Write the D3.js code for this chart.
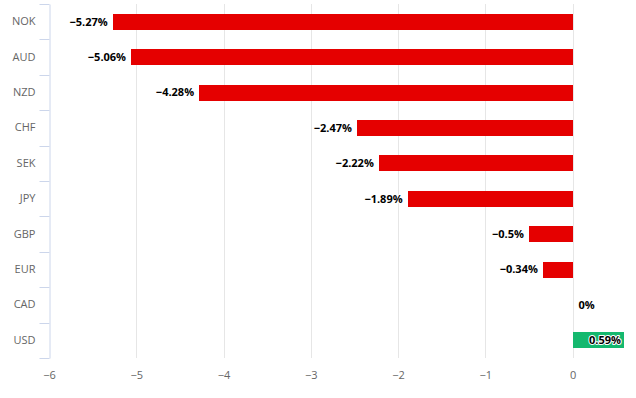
<!DOCTYPE html>
<html>
<head>
<meta charset="utf-8">
<script src="https://cdn.jsdelivr.net/npm/d3@7"></script>
<style>
  body { margin: 0; background: #fff; }
  text { font-family: "Open Sans", "DejaVu Sans", sans-serif; }
</style>
</head>
<body>
<script>
// currency performance, percent
var currencies = ["NOK", "AUD", "NZD", "CHF", "SEK", "JPY", "GBP", "EUR", "CAD", "USD"];
var changes = [-5.27, -5.06, -4.28, -2.47, -2.22, -1.89, -0.5, -0.34, 0, 0.59];
var labels = ["\u22125.27%", "\u22125.06%", "\u22124.28%", "\u22122.47%", "\u22122.22%",
              "\u22121.89%", "\u22120.5%", "\u22120.34%", "0%", "0.59%"];
var xTicks = [-6, -5, -4, -3, -2, -1, 0];

var width = 636, height = 398;
var margin = {top: 4, right: 12, bottom: 40, left: 49};

var svg = d3.select("body").append("svg")
    .attr("width", width)
    .attr("height", height);

var x = d3.scaleLinear()
    .domain([-6, 0.59])
    .range([margin.left, width - margin.right]);

var y = d3.scaleBand()
    .domain(currencies)
    .range([margin.top, height - margin.bottom]);

// grid lines
svg.append("g")
    .selectAll("line")
    .data(xTicks.filter(function(d) { return d > -6; }))
    .enter().append("line")
    .attr("x1", function(d) { return Math.round(x(d)) + 0.5; })
    .attr("x2", function(d) { return Math.round(x(d)) + 0.5; })
    .attr("y1", margin.top)
    .attr("y2", height - margin.bottom)
    .style("stroke", "#e6e6e6");

// x axis labels
var xAxis = d3.axisBottom(x)
    .tickValues(xTicks)
    .tickSize(0)
    .tickPadding(13)
    .tickFormat(function(d) { return d < 0 ? "\u2212" + Math.abs(d) : d; });

var gx = svg.append("g")
    .attr("transform", "translate(0," + (height - margin.bottom) + ")")
    .call(xAxis);
gx.select(".domain").remove();
gx.selectAll("text")
    .style("font-size", "11px")
    .style("fill", "#666");

// category axis
var yAxis = d3.axisLeft(y).tickSize(0).tickPadding(14);
var gy = svg.append("g")
    .attr("transform", "translate(" + (margin.left + 0.5) + ",0)")
    .call(yAxis);
gy.select(".domain")
    .style("stroke", "#ccd6eb");
gy.selectAll("text")
    .style("font-size", "11px")
    .style("fill", "#666");

// category boundary ticks
var bounds = currencies.map(function(c) { return y(c); }).concat([height - margin.bottom]);
gy.append("g")
    .selectAll("line")
    .data(bounds)
    .enter().append("line")
    .attr("x1", -10)
    .attr("x2", 0)
    .attr("y1", function(d) { return Math.round(d) + 0.5; })
    .attr("y2", function(d) { return Math.round(d) + 0.5; })
    .style("stroke", "#ccd6eb");

var barH = 16;
function left(i) { return Math.round(x(Math.min(0, changes[i]))); }
function right(i) { return Math.round(x(Math.max(0, changes[i]))); }

// bars
svg.append("g")
    .selectAll("rect")
    .data(currencies)
    .enter().append("rect")
    .attr("x", function(d, i) { return left(i); })
    .attr("y", function(d) { return Math.round(y(d) + y.bandwidth() / 2 - barH / 2); })
    .attr("width", function(d, i) { return right(i) - left(i); })
    .attr("height", barH)
    .style("fill", function(d, i) { return changes[i] < 0 ? "#e50000" : "#14b86e"; });

// data labels
svg.append("g")
    .selectAll("text")
    .data(currencies)
    .enter().append("text")
    .attr("x", function(d, i) {
        var v = changes[i];
        if (v < 0) return x(v) - 5;
        if (v > 0) return x(v) - 3;
        return x(0) + 6;
    })
    .attr("y", function(d) { return y(d) + y.bandwidth() / 2; })
    .attr("dy", "0.35em")
    .attr("text-anchor", function(d, i) { return changes[i] === 0 ? "start" : "end"; })
    .style("font-size", "11px")
    .style("font-weight", "bold")
    .style("fill", "#000")
    .style("stroke", "#fff")
    .style("stroke-width", 2)
    .style("paint-order", "stroke")
    .style("stroke-linejoin", "round")
    .text(function(d, i) { return labels[i]; });
</script>
</body>
</html>
